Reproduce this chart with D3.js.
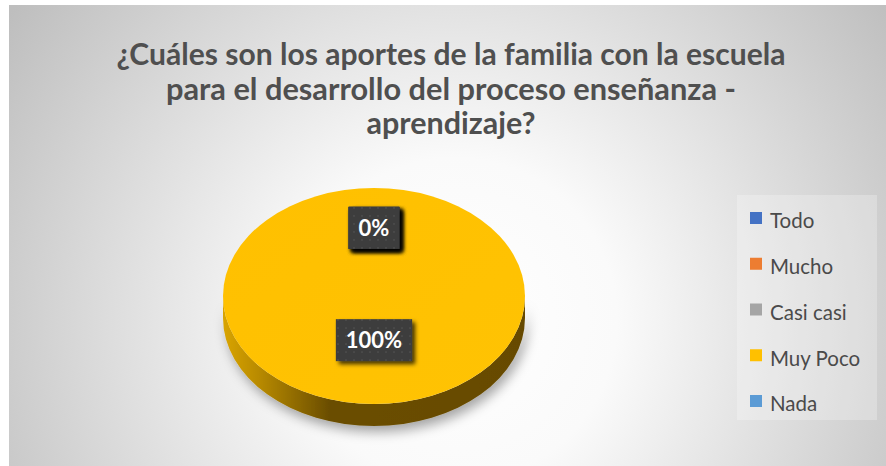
<!DOCTYPE html>
<html><head><meta charset="utf-8">
<script src="https://cdn.jsdelivr.net/npm/d3@7"></script>
<style>html,body{margin:0;padding:0;background:#fff;}svg{display:block;}</style>
</head><body>
<svg id="chart" width="886" height="466"></svg>
<script>
const categories = ["Todo", "Mucho", "Casi casi", "Muy Poco", "Nada"];
const values = [0, 0, 0, 100, 0];
const colors = ["#4472C4", "#ED7D31", "#A5A5A5", "#FFC000", "#5B9BD5"];
const titleLines = [
  "¿Cuáles son los aportes de la familia con la escuela",
  "para el desarrollo del proceso enseñanza -",
  "aprendizaje?"
];
const titleWidths = [669, 570, 169];

(function(){
const W = 886, H = 466;
const svg = d3.select("#chart");
const defs = svg.append("defs");

const bg = defs.append("radialGradient").attr("id","bgGrad")
  .attr("gradientUnits","userSpaceOnUse").attr("cx",455).attr("cy",320).attr("r",540);
bg.append("stop").attr("offset","0").attr("stop-color","#ffffff");
bg.append("stop").attr("offset","0.3").attr("stop-color","#fafafa");
bg.append("stop").attr("offset","1").attr("stop-color","#bebebe");

const sg = defs.append("linearGradient").attr("id","sideGrad")
  .attr("gradientUnits","userSpaceOnUse").attr("x1",223).attr("x2",525).attr("y1",0).attr("y2",0);
sg.append("stop").attr("offset","0").attr("stop-color","#D9A400");
sg.append("stop").attr("offset","0.12").attr("stop-color","#B88A00");
sg.append("stop").attr("offset","0.35").attr("stop-color","#6B4E00");
sg.append("stop").attr("offset","1").attr("stop-color","#664A00");

const tg = defs.append("linearGradient").attr("id","topGrad").attr("x1",0).attr("x2",1).attr("y1",0).attr("y2",1);
tg.append("stop").attr("offset","0").attr("stop-color","#FFC000");
tg.append("stop").attr("offset","1").attr("stop-color","#FFC303");

const sh = defs.append("filter").attr("id","pieShadow").attr("x","-20%").attr("y","-20%").attr("width","140%").attr("height","150%");
sh.append("feDropShadow").attr("dx",3).attr("dy",6).attr("stdDeviation",6).attr("flood-color","#000").attr("flood-opacity",0.35);
const lsh = defs.append("filter").attr("id","lblShadow").attr("x","-30%").attr("y","-30%").attr("width","160%").attr("height","170%");
lsh.append("feDropShadow").attr("dx",3).attr("dy",3).attr("stdDeviation",2).attr("flood-color","#000").attr("flood-opacity",0.75);

const pat = defs.append("pattern").attr("id","dots").attr("patternUnits","userSpaceOnUse").attr("width",8).attr("height",8);
pat.append("rect").attr("width",8).attr("height",8).attr("fill","#3c3c3c");
pat.append("circle").attr("cx",4).attr("cy",4).attr("r",1.1).attr("fill","#4c4c4c");

svg.append("rect").attr("width",W).attr("height",H).attr("fill","#ffffff");
svg.append("rect").attr("x",9).attr("y",5).attr("width",W-9).attr("height",H-5).attr("fill","url(#bgGrad)");

const title = svg.append("g");
titleLines.forEach((t,i)=>{
  title.append("text")
    .attr("x",451).attr("y",65 + i*34.5)
    .attr("text-anchor","middle")
    .attr("font-family","Lato, 'Open Sans', sans-serif")
    .attr("font-weight","bold").attr("font-size",31)
    .attr("fill","#4f4f4f")
    .attr("textLength",titleWidths[i]).attr("lengthAdjust","spacingAndGlyphs")
    .text(t);
});

const cx = 374, cy = 296, rx = 151, ry = 108, depth = 22;
const k = ry / rx;
const pie = d3.pie().sort(null).value(d=>d)(values);
const arc = d3.arc().innerRadius(0).outerRadius(rx);
const labelArc = d3.arc().innerRadius(rx*0.52).outerRadius(rx*0.52);

const side = `M${cx-rx},${cy} A${rx},${ry} 0 0 0 ${cx+rx},${cy} L${cx+rx},${cy+depth} A${rx},${ry} 0 0 1 ${cx-rx},${cy+depth} Z`;
svg.append("path").attr("d",side).attr("fill","url(#sideGrad)").attr("filter","url(#pieShadow)");

const topFace = svg.append("g").attr("transform",`translate(${cx},${cy}) scale(1,${k})`);
topFace.selectAll("path").data(pie).join("path")
  .attr("d",arc)
  .attr("fill",(d,i)=> i===3 ? "url(#topGrad)" : colors[i])
  .attr("stroke","none");

const lblG = svg.append("g");
const total = d3.sum(values);
pie.forEach((d,i)=>{
  const c = labelArc.centroid(d);
  const x = cx + c[0];
  const y = cy + c[1]*k - 12;
  const g = lblG.append("g").attr("transform",`translate(${x},${y})`);
  const txt = Math.round(values[i]/total*100) + "%";
  const t = g.append("text").attr("text-anchor","middle").attr("dy","0.36em")
    .attr("font-family","Lato, 'Open Sans', sans-serif").attr("font-weight","bold")
    .attr("font-size",22).attr("fill","#ffffff").text(txt);
  const bb = t.node().getBBox();
  const bw = bb.width + 20, bh = 42;
  g.insert("rect","text").attr("x",-bw/2).attr("y",-bh/2).attr("width",bw).attr("height",bh)
    .attr("fill","url(#dots)").attr("filter","url(#lblShadow)");
});

svg.append("rect").attr("x",737).attr("y",195).attr("width",140).attr("height",225)
  .attr("fill","#ffffff").attr("opacity",0.25);
const leg = svg.append("g");
const ly = d3.scalePoint().domain(categories).range([221, 404]);
categories.forEach((c,i)=>{
  leg.append("rect").attr("x",750).attr("y",ly(c)-9).attr("width",12).attr("height",12).attr("fill",colors[i]);
  leg.append("text").attr("x",770).attr("y",ly(c)).attr("dy","0.36em")
    .attr("font-family","Lato, 'Open Sans', sans-serif").attr("font-size",20.5)
    .attr("fill","#4a4a4a").text(c);
});
})();
</script>
</body></html>
